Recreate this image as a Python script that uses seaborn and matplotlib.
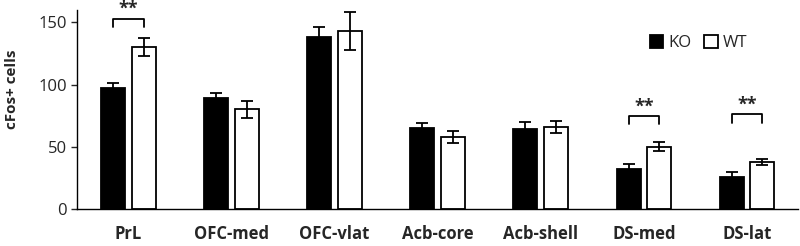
import numpy as np
import pandas as pd
import matplotlib
matplotlib.use("Agg")
import matplotlib.pyplot as plt
import seaborn as sns

regions = ["PrL", "OFC-med", "OFC-vlat", "Acb-core", "Acb-shell", "DS-med", "DS-lat"]
ko_mean = [97, 89, 138, 65, 64, 32, 26]
ko_err = [4, 4, 8, 4, 6, 4, 4]
wt_mean = [130, 80, 143, 58, 66, 50, 38]
wt_err = [7, 7, 15, 5, 5, 3.5, 2.5]
sig_regions = ["PrL", "DS-med", "DS-lat"]
sig_levels = [153, 75, 76]
sig_label = "**"

df = pd.DataFrame({
    "region": regions * 2,
    "group": ["KO"] * len(regions) + ["WT"] * len(regions),
    "cells": ko_mean + wt_mean,
})

sns.set_style("white")
plt.rcParams["font.family"] = ["Open Sans", "DejaVu Sans"]

fig = plt.figure(figsize=(8, 2.46), dpi=100)
ax = fig.add_axes([0.096, 0.15, 0.902, 0.81])

sns.barplot(data=df, x="region", y="cells", hue="group", order=regions,
            hue_order=["KO", "WT"], palette={"KO": "black", "WT": "white"},
            width=0.59, gap=0.21, edgecolor="black", linewidth=1.3,
            errorbar=None, ax=ax)

# error bars on top of the seaborn bars
errs = {"KO": ko_err, "WT": wt_err}
centers = {}
for cont, grp in zip(ax.containers, ["KO", "WT"]):
    for i, bar in enumerate(cont):
        cx = bar.get_x() + bar.get_width() / 2
        h = bar.get_height()
        centers[(grp, i)] = cx
        ax.errorbar(cx, h, yerr=errs[grp][i], color="black", capsize=4.5,
                    elinewidth=1.3, capthick=1.3, zorder=5)

# significance brackets
for r, y in zip(sig_regions, sig_levels):
    i = regions.index(r)
    x1 = centers[("KO", i)]
    x2 = centers[("WT", i)]
    ax.plot([x1, x1, x2, x2], [y - 7, y, y, y - 7], color="black", lw=1.3,
            clip_on=False)
    ax.text((x1 + x2) / 2, y + 7.5, sig_label, ha="center", va="center",
            fontsize=13, fontweight="bold", clip_on=False)

ax.set_ylim(0, 160)
ax.set_xlim(-0.5, 6.5)
ax.set_yticks([0, 50, 100, 150])
ax.set_xlabel("")
ax.set_ylabel("cFos+ cells", fontsize=11, fontweight="bold")
ax.yaxis.set_label_coords(-0.08, 0.6)
ax.tick_params(axis="y", left=True, length=4, width=1, labelsize=12, pad=3)
ax.tick_params(axis="x", bottom=False, labelsize=12, pad=8)
for lbl in ax.get_xticklabels():
    lbl.set_fontweight("bold")
sns.despine(ax=ax)
for s in ["left", "bottom"]:
    ax.spines[s].set_color("black")
    ax.spines[s].set_linewidth(1)

handles, labels = ax.get_legend_handles_labels()
ax.legend(handles, labels, loc="upper right", bbox_to_anchor=(0.95, 0.95),
          ncol=2, frameon=False, handlelength=0.8, handleheight=0.8,
          handletextpad=0.3, columnspacing=0.8, fontsize=12)

fig.savefig("out.png", dpi=100)
